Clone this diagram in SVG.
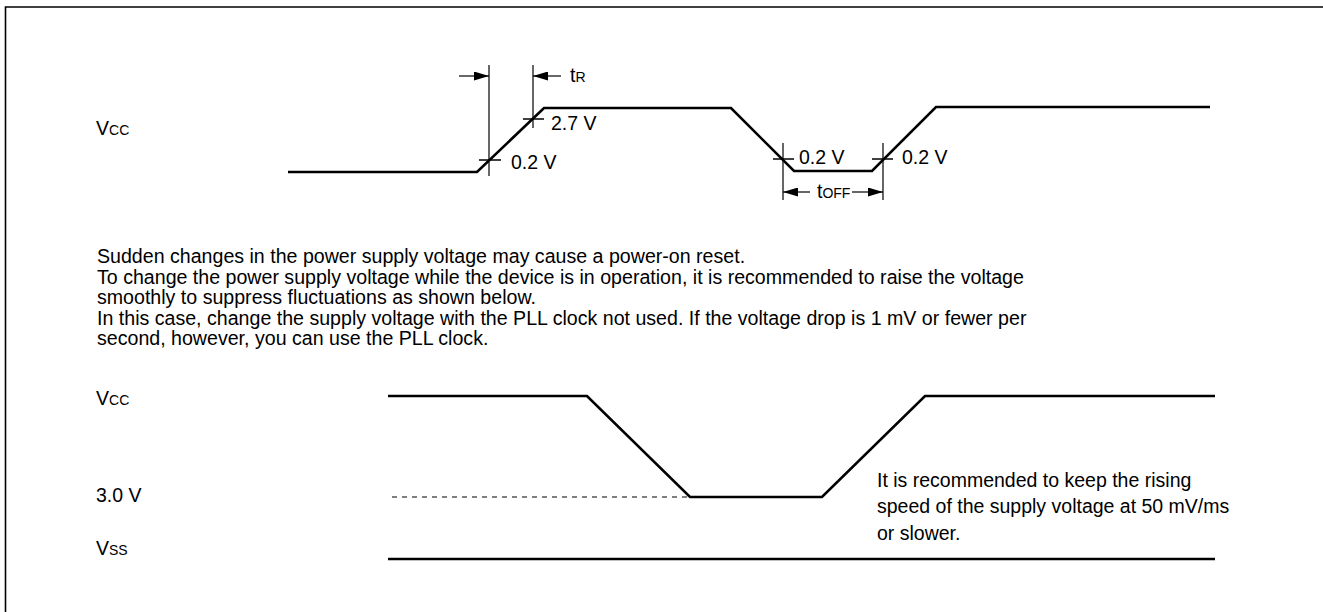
<svg xmlns="http://www.w3.org/2000/svg" width="1323" height="612" viewBox="0 0 1323 612">
<defs>
<style>
text{font-family:"Liberation Sans",Arial,sans-serif;fill:#000;font-size:19.5px}
.para{font-size:19.6px}
.sub{font-size:14px}
.wave{fill:none;stroke:#000;stroke-width:2.6;stroke-linejoin:miter}
.thin{fill:none;stroke:#000;stroke-width:1.2}
.tick{fill:none;stroke:#000;stroke-width:1.5}
.dash{fill:none;stroke:#000;stroke-width:1;stroke-dasharray:5 5}
</style>
<marker id="ah" viewBox="0 0 15 9" refX="15" refY="4.5" markerWidth="15" markerHeight="9" markerUnits="userSpaceOnUse" orient="auto">
<path d="M0,0 L15,4.5 L0,9 Z" fill="#000"/>
</marker>
</defs>
<rect width="1323" height="612" fill="#fff"/>
<path id="frame" d="M5.5,612 V7 H1323" fill="none" stroke="#000" stroke-width="1.6"/>

<g id="top-labels">
<text x="96" y="135">V<tspan class="sub">CC</tspan></text>
<text x="570" y="82">t<tspan class="sub">R</tspan></text>
<text x="551" y="130">2.7 V</text>
<text x="511" y="169">0.2 V</text>
<text x="799" y="164">0.2 V</text>
<text x="902" y="164">0.2 V</text>
<text x="817" y="198">t<tspan class="sub">OFF</tspan></text>
</g>

<g id="top-waveform">
<polyline class="wave" points="288,172 477,172 544,108 731,108 794,171 872,171 936,107 1210,107"/>
</g>

<g id="connectors">
<line class="thin" x1="489" y1="65" x2="489" y2="176"/>
<line class="thin" x1="533" y1="65" x2="533" y2="128"/>
<line class="tick" x1="479" y1="160" x2="501" y2="160"/>
<line class="tick" x1="523" y1="119" x2="544" y2="119"/>
<line class="thin" x1="459" y1="76" x2="489" y2="76" marker-end="url(#ah)"/>
<line class="thin" x1="561" y1="76" x2="533" y2="76" marker-end="url(#ah)"/>
<line class="thin" x1="783" y1="143" x2="783" y2="200"/>
<line class="thin" x1="883" y1="143" x2="883" y2="200"/>
<line class="tick" x1="773" y1="159" x2="794" y2="159"/>
<line class="tick" x1="872" y1="159" x2="893" y2="159"/>
<line class="thin" x1="810" y1="192" x2="783" y2="192" marker-end="url(#ah)"/>
<line class="thin" x1="852" y1="192" x2="883" y2="192" marker-end="url(#ah)"/>
</g>

<g id="paragraph">
<text class="para" x="97" y="263">Sudden changes in the power supply voltage may cause a power-on reset.</text>
<text class="para" x="97" y="283.5">To change the power supply voltage while the device is in operation, it is recommended to raise the voltage</text>
<text class="para" x="97" y="304">smoothly to suppress fluctuations as shown below.</text>
<text class="para" x="97" y="324.5">In this case, change the supply voltage with the PLL clock not used. If the voltage drop is 1 mV or fewer per</text>
<text class="para" x="97" y="345">second, however, you can use the PLL clock.</text>
</g>

<g id="bottom-labels">
<text x="96" y="405">V<tspan class="sub">CC</tspan></text>
<text x="96" y="502">3.0 V</text>
<text x="96" y="555">V<tspan class="sub">SS</tspan></text>
</g>

<g id="bottom-waveform">
<polyline class="wave" points="388,396 587,396 690,497 822,497 925,396 1215,396"/>
<line class="dash" x1="392" y1="497" x2="690" y2="497"/>
<line class="wave" x1="388" y1="559" x2="1215" y2="559"/>
</g>

<g id="note">
<text x="877" y="487">It is recommended to keep the rising</text>
<text x="877" y="513">speed of the supply voltage at 50 mV/ms</text>
<text x="877" y="540">or slower.</text>
</g>
</svg>
